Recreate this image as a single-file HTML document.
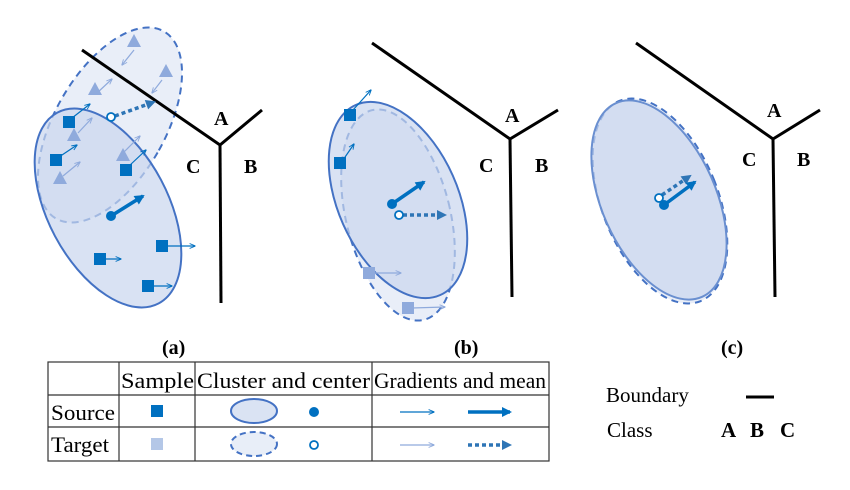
<!DOCTYPE html>
<html><head><meta charset="utf-8"><style>
html,body{margin:0;padding:0;background:#fff}
svg text{font-family:"Liberation Serif",serif}
</style></head><body>
<svg width="850" height="485" viewBox="0 0 850 485" xmlns="http://www.w3.org/2000/svg">
<defs>
<marker id="ah" viewBox="0 0 10 10" refX="9" refY="5" markerWidth="6" markerHeight="6" orient="auto" markerUnits="userSpaceOnUse"><path d="M0,1 L10,5 L0,9" fill="none" stroke="#0070c0" stroke-width="1.5"/></marker>
<marker id="ahl" viewBox="0 0 10 10" refX="9" refY="5" markerWidth="6" markerHeight="6" orient="auto" markerUnits="userSpaceOnUse"><path d="M0,1 L10,5 L0,9" fill="none" stroke="#8faadc" stroke-width="1.5"/></marker>
<marker id="big" viewBox="0 0 10 10" refX="8" refY="5" markerWidth="12" markerHeight="10" orient="auto" markerUnits="userSpaceOnUse"><path d="M0,0 L10,5 L0,10Z" fill="#0070c0"/></marker>
<marker id="bigt" viewBox="0 0 10 10" refX="8" refY="5" markerWidth="12" markerHeight="10" orient="auto" markerUnits="userSpaceOnUse"><path d="M0,0 L10,5 L0,10Z" fill="#2e75b6"/></marker>
</defs>

<!-- Panel a -->
<ellipse cx="110" cy="125" rx="55" ry="108" transform="rotate(30 110 125)" fill="#dae3f3" fill-opacity="0.6" stroke="#4472c4" stroke-width="2" stroke-dasharray="7,5"/>
<ellipse cx="108" cy="208" rx="60" ry="108" transform="rotate(-28 108 208)" fill="#c9d6ee" fill-opacity="0.7" stroke="#4472c4" stroke-width="2"/>
<polyline points="82,50 220,145 262,110" fill="none" stroke="#000" stroke-width="3"/>
<line x1="220" y1="145" x2="221" y2="303" stroke="#000" stroke-width="3"/>
<text x="214" y="125" font-size="20" font-weight="bold">A</text>
<text x="186" y="173" font-size="20" font-weight="bold">C</text>
<text x="244" y="173" font-size="20" font-weight="bold">B</text>
<g fill="#8faadc">
<polygon points="134,34 141,47 127,47"/><polygon points="166,64 173,77 159,77"/><polygon points="95,82 102,95 88,95"/><polygon points="74,128 81,141 67,141"/><polygon points="60,171 67,184 53,184"/><polygon points="123,148 130,161 116,161"/>
</g>
<g stroke="#8faadc" stroke-width="1.2" marker-end="url(#ahl)">
<line x1="134" y1="50" x2="122" y2="65"/><line x1="162" y1="80" x2="152" y2="93"/><line x1="97" y1="93" x2="112" y2="79"/><line x1="78" y1="133" x2="92" y2="118"/><line x1="63" y1="176" x2="80" y2="162"/><line x1="124" y1="152" x2="140" y2="136"/>
</g>
<g fill="#0070c0">
<rect x="63" y="116" width="12" height="12"/><rect x="50" y="154" width="12" height="12"/><rect x="120" y="164" width="12" height="12"/><rect x="94" y="253" width="12" height="12"/><rect x="156" y="240" width="12" height="12"/><rect x="142" y="280" width="12" height="12"/>
</g>
<g stroke="#0070c0" stroke-width="1.2" marker-end="url(#ah)">
<line x1="72" y1="118" x2="90" y2="104"/><line x1="59" y1="157" x2="77" y2="145"/><line x1="129" y1="166" x2="146" y2="150"/><line x1="104" y1="259" x2="121" y2="259"/><line x1="166" y1="246" x2="195" y2="246"/><line x1="152" y1="286" x2="172" y2="286"/>
</g>
<line x1="111" y1="216" x2="143" y2="196" stroke="#0070c0" stroke-width="3.5" marker-end="url(#big)"/>
<circle cx="111" cy="216" r="5" fill="#0070c0"/>
<line x1="115" y1="116" x2="154" y2="102" stroke="#2e75b6" stroke-width="3.5" stroke-dasharray="4,3" marker-end="url(#bigt)"/>
<circle cx="111" cy="117" r="4" fill="#fff" stroke="#0070c0" stroke-width="1.8"/>

<!-- Panel b -->
<ellipse cx="398" cy="215" rx="52" ry="108" transform="rotate(-14 398 215)" fill="#dae3f3" fill-opacity="0.6" stroke="#4472c4" stroke-width="2" stroke-dasharray="7,5"/>
<ellipse cx="398" cy="200" rx="60" ry="104" transform="rotate(-24 398 200)" fill="#c9d6ee" fill-opacity="0.7" stroke="#4472c4" stroke-width="2"/>
<polyline points="372,43 510,139 558,110" fill="none" stroke="#000" stroke-width="3"/>
<line x1="510" y1="139" x2="512" y2="297" stroke="#000" stroke-width="3"/>
<text x="505" y="122" font-size="20" font-weight="bold">A</text>
<text x="479" y="172" font-size="20" font-weight="bold">C</text>
<text x="535" y="172" font-size="20" font-weight="bold">B</text>
<g fill="#0070c0"><rect x="344" y="109" width="12" height="12"/><rect x="334" y="157" width="12" height="12"/></g>
<g fill="#8faadc"><rect x="363" y="267" width="12" height="12"/><rect x="402" y="302" width="12" height="12"/></g>
<g stroke="#0070c0" stroke-width="1.2" marker-end="url(#ah)"><line x1="353" y1="110" x2="371" y2="90"/><line x1="343" y1="160" x2="354" y2="144"/></g>
<g stroke="#8faadc" stroke-width="1.2" marker-end="url(#ahl)"><line x1="373" y1="273" x2="401" y2="273"/><line x1="412" y1="308" x2="445" y2="307"/></g>
<line x1="392" y1="204" x2="424" y2="182" stroke="#0070c0" stroke-width="3.5" marker-end="url(#big)"/>
<circle cx="392" cy="204" r="5" fill="#0070c0"/>
<line x1="403" y1="215" x2="445" y2="215" stroke="#2e75b6" stroke-width="3.5" stroke-dasharray="4,3" marker-end="url(#bigt)"/>
<circle cx="399" cy="215" r="4" fill="#fff" stroke="#0070c0" stroke-width="1.8"/>

<!-- Panel c -->
<ellipse cx="660" cy="201" rx="58" ry="108" transform="rotate(-22 660 201)" fill="#dae3f3" fill-opacity="0.6" stroke="#4472c4" stroke-width="2" stroke-dasharray="7,5"/>
<ellipse cx="659" cy="200" rx="57" ry="106" transform="rotate(-24 659 200)" fill="#c9d6ee" fill-opacity="0.7" stroke="#6a8fd0" stroke-width="2"/>
<polyline points="636,43 773,139 820,110" fill="none" stroke="#000" stroke-width="3"/>
<line x1="773" y1="139" x2="775" y2="297" stroke="#000" stroke-width="3"/>
<text x="767" y="117" font-size="20" font-weight="bold">A</text>
<text x="742" y="166" font-size="20" font-weight="bold">C</text>
<text x="797" y="166" font-size="20" font-weight="bold">B</text>
<line x1="662" y1="195" x2="690" y2="176" stroke="#2e75b6" stroke-width="3.5" stroke-dasharray="4,3" marker-end="url(#bigt)"/>
<line x1="664" y1="205" x2="695" y2="182" stroke="#0070c0" stroke-width="3.5" marker-end="url(#big)"/>
<circle cx="664" cy="205" r="5" fill="#0070c0"/>
<circle cx="659" cy="198" r="4" fill="#fff" stroke="#0070c0" stroke-width="1.8"/>

<text x="162" y="354" font-size="20" font-weight="bold">(a)</text>
<text x="454" y="354" font-size="20" font-weight="bold">(b)</text>
<text x="721" y="354" font-size="20" font-weight="bold">(c)</text>

<!-- Table -->
<g stroke="#333" stroke-width="1.2" fill="none">
<rect x="48" y="362" width="501" height="99"/>
<line x1="48" y1="395" x2="549" y2="395"/><line x1="48" y1="427" x2="549" y2="427"/>
<line x1="119" y1="362" x2="119" y2="461"/><line x1="195" y1="362" x2="195" y2="461"/><line x1="372" y1="362" x2="372" y2="461"/>
</g>
<g font-size="22">
<text x="121" y="388" textLength="73" lengthAdjust="spacingAndGlyphs">Sample</text>
<text x="197" y="388" textLength="173" lengthAdjust="spacingAndGlyphs">Cluster and center</text>
<text x="374" y="388" textLength="172" lengthAdjust="spacingAndGlyphs">Gradients and mean</text>
<text x="51" y="420" textLength="64" lengthAdjust="spacingAndGlyphs">Source</text>
<text x="51" y="452" textLength="58" lengthAdjust="spacingAndGlyphs">Target</text>
</g>
<rect x="151" y="405" width="12" height="12" fill="#0070c0"/>
<rect x="151" y="438" width="12" height="12" fill="#b4c7e7"/>
<ellipse cx="254" cy="411" rx="23" ry="12" fill="#dae3f3" stroke="#4472c4" stroke-width="2"/>
<ellipse cx="254" cy="444" rx="23" ry="12" fill="#e8eef8" stroke="#4472c4" stroke-width="2" stroke-dasharray="6,4"/>
<circle cx="314" cy="412" r="5" fill="#0070c0"/>
<circle cx="314" cy="445" r="4" fill="#fff" stroke="#0070c0" stroke-width="1.8"/>
<line x1="400" y1="412" x2="434" y2="412" stroke="#0070c0" stroke-width="1.2" marker-end="url(#ah)"/>
<line x1="400" y1="445" x2="434" y2="445" stroke="#8faadc" stroke-width="1.2" marker-end="url(#ahl)"/>
<line x1="468" y1="412" x2="510" y2="412" stroke="#0070c0" stroke-width="3.5" marker-end="url(#big)"/>
<line x1="468" y1="445" x2="510" y2="445" stroke="#2e75b6" stroke-width="3.5" stroke-dasharray="4,3" marker-end="url(#bigt)"/>

<!-- Right legend -->
<text x="606" y="402" font-size="21">Boundary</text>
<line x1="746" y1="397" x2="774" y2="397" stroke="#000" stroke-width="3"/>
<text x="607" y="437" font-size="21">Class</text>
<text x="721" y="437" font-size="21" font-weight="bold">A</text>
<text x="750" y="437" font-size="21" font-weight="bold">B</text>
<text x="780" y="437" font-size="21" font-weight="bold">C</text>
</svg>
</body></html>
